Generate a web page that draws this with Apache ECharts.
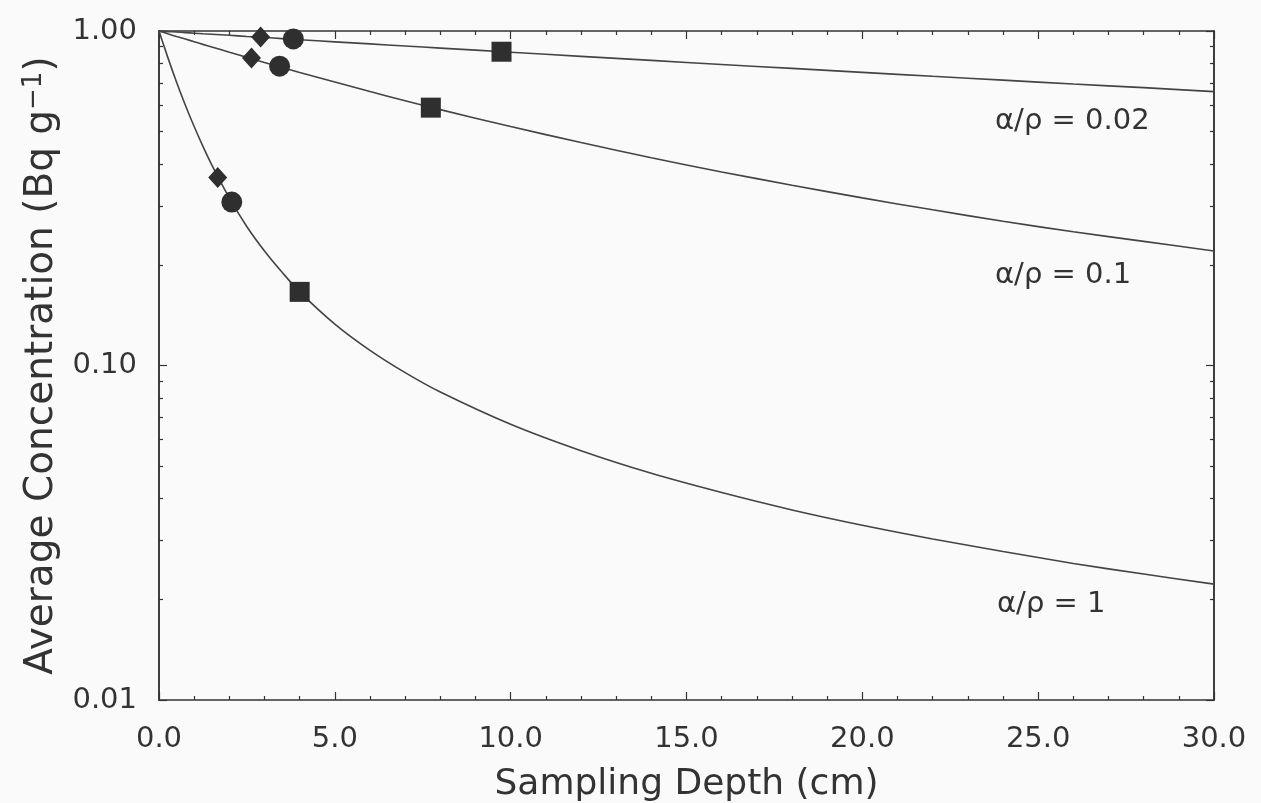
<!DOCTYPE html>
<html>
<head>
<meta charset="utf-8">
<title>Average Concentration vs Sampling Depth</title>
<script src="https://cdn.jsdelivr.net/npm/echarts@6/dist/echarts.min.js"></script>
<style>
  html, body { margin: 0; padding: 0; background: #fafafa; }
  #chart { width: 1261px; height: 803px; }
</style>
</head>
<body>
<div id="chart"></div>
<script>
// sampling depth (cm) at which the curves were read
var depth = [0, 0.25, 0.5, 0.75, 1, 1.25, 1.5, 2, 2.5, 3, 3.5, 4, 5, 6, 7, 8, 10, 12, 14, 16, 18, 20, 22, 24, 26, 28, 30];

// average concentration (Bq g-1)
var conc1 = [1, 0.834, 0.703, 0.600, 0.518, 0.452, 0.398, 0.317, 0.260, 0.220, 0.190, 0.166, 0.133, 0.111, 0.0952, 0.0833,
             0.0667, 0.0556, 0.0476, 0.0417, 0.0370, 0.0333, 0.0303, 0.0278, 0.0256, 0.0238, 0.0222];
var conc01 = [1, 0.981, 0.963, 0.946, 0.929, 0.912, 0.896, 0.864, 0.834, 0.805, 0.778, 0.752, 0.704, 0.659, 0.619, 0.582,
              0.518, 0.464, 0.418, 0.379, 0.346, 0.317, 0.292, 0.270, 0.251, 0.235, 0.220];
var conc002 = [1, 0.996, 0.993, 0.989, 0.985, 0.981, 0.978, 0.971, 0.963, 0.956, 0.949, 0.942, 0.928, 0.915, 0.902, 0.889,
               0.864, 0.840, 0.817, 0.794, 0.773, 0.752, 0.732, 0.713, 0.694, 0.677, 0.659];

// measured points [depth, concentration]
var diamondPts = [[1.67, 0.365], [2.63, 0.830], [2.89, 0.960]];
var circlePts = [[2.07, 0.308], [3.43, 0.785], [3.82, 0.947]];
var squarePts = [[4.0, 0.166], [7.73, 0.590], [9.74, 0.867]];

var xTickLabels = ['0.0', '5.0', '10.0', '15.0', '20.0', '25.0', '30.0'];
var yTickLabels = ['0.01', '0.10', '1.00'];
var yMinorTicks = [0.02, 0.03, 0.04, 0.05, 0.06, 0.07, 0.08, 0.09, 0.2, 0.3, 0.4, 0.5, 0.6, 0.7, 0.8, 0.9];
var curveNames = ['α/ρ = 1', 'α/ρ = 0.1', 'α/ρ = 0.02'];

var chart = echarts.init(document.getElementById('chart'));

var ink = '#333';
var font = 'DejaVu Sans';

function pairs(ys) {
    return depth.map(function (d, i) { return [d, ys[i]]; });
}

function xAxisCfg(pos, showLabel) {
    return {
        type: 'value', position: pos, min: 0, max: 30, interval: 5,
        axisLine: { show: true, onZero: false, lineStyle: { color: ink, width: 1.5 } },
        axisTick: { show: true, inside: true, length: 8, lineStyle: { color: ink, width: 1.2 } },
        minorTick: { show: true, splitNumber: 5, length: 4, lineStyle: { color: ink, width: 1.2 } },
        splitLine: { show: false },
        axisLabel: {
            show: showLabel, margin: 25, color: ink, fontFamily: font, fontSize: 29,
            formatter: function (v) { return xTickLabels[Math.round(v / 5)]; }
        }
    };
}

function yAxisCfg(pos, major, showLabel) {
    var cfg = {
        type: 'log', logBase: 10, position: pos, min: 0.01, max: 1,
        axisLine: { show: true, onZero: false, lineStyle: { color: ink, width: 1.5 } },
        axisTick: { show: true, inside: true, length: major ? 8 : 4, lineStyle: { color: ink, width: 1.2 } },
        splitLine: { show: false },
        axisLabel: {
            show: showLabel, margin: 22, color: ink, fontFamily: font, fontSize: 29,
            formatter: function (v) { return yTickLabels[Math.round(Math.log10(v)) + 2]; }
        }
    };
    if (!major) cfg.axisTick.customValues = yMinorTicks;
    return cfg;
}

var yLeft = yAxisCfg('left', true, true);
yLeft.name = 'Average Concentration (Bq g{sup|−1})';
yLeft.nameLocation = 'middle';
yLeft.nameRotate = 90;
yLeft.nameGap = 95;
yLeft.nameTextStyle = {
    color: ink, fontFamily: font, fontSize: 39,
    rich: { sup: { fontFamily: font, fontSize: 26, color: ink, verticalAlign: 'top', padding: [0, 0, 16, 0] } }
};

var xBottom = xAxisCfg('bottom', true);
xBottom.name = 'Sampling Depth (cm)';
xBottom.nameLocation = 'middle';
xBottom.nameGap = 67;
xBottom.nameTextStyle = { color: ink, fontFamily: font, fontSize: 36 };

function curve(name, ys) {
    return {
        name: name, type: 'line', data: pairs(ys), smooth: 0.3, showSymbol: false,
        xAxisIndex: 0, yAxisIndex: 0, z: 2,
        lineStyle: { color: '#444', width: 1.6 }
    };
}

function marks(shape, pts, size) {
    return {
        type: 'scatter', data: pts, symbol: shape, symbolSize: size,
        xAxisIndex: 0, yAxisIndex: 0, z: 5,
        itemStyle: { color: '#2f2f2f', opacity: 1 }
    };
}

function note(text, x, y) {
    return {
        type: 'text', x: x, y: y,
        style: { text: text, fill: ink, font: '29px "DejaVu Sans"', verticalAlign: 'middle' }
    };
}

var option = {
    backgroundColor: '#fafafa',
    animation: false,
    grid: { left: 159, right: 47, top: 31, bottom: 103, containLabel: false, outerBoundsMode: 'none' },
    xAxis: [xBottom, xAxisCfg('top', false)],
    yAxis: [
        yLeft,
        yAxisCfg('left', false, false),
        yAxisCfg('right', true, false),
        yAxisCfg('right', false, false)
    ],
    graphic: [
        note(curveNames[2], 995, 121),
        note(curveNames[1], 995, 275),
        note(curveNames[0], 997, 604)
    ],
    series: [
        curve(curveNames[0], conc1),
        curve(curveNames[1], conc01),
        curve(curveNames[2], conc002),
        marks('diamond', diamondPts, [19, 21]),
        marks('circle', circlePts, 21),
        marks('rect', squarePts, 20)
    ]
};

chart.setOption(option);
</script>
</body>
</html>
